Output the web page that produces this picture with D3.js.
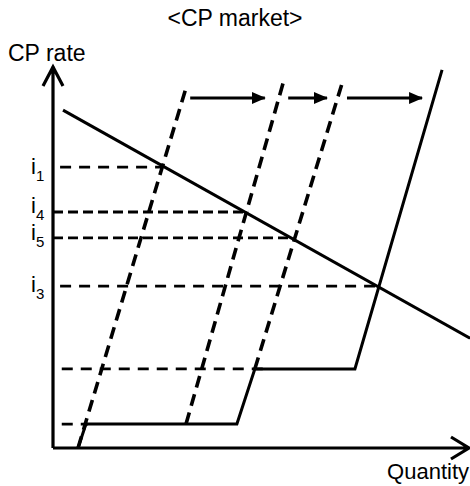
<!DOCTYPE html>
<html>
<head>
<meta charset="utf-8">
<script src="https://cdn.jsdelivr.net/npm/d3@7"></script>
<style>
  html, body { margin: 0; padding: 0; background: #fff; }
  svg { display: block; font-family: "Liberation Sans", Arial, sans-serif; }
</style>
</head>
<body>
<svg id="chart" width="470" height="486"></svg>
<script>
// ---- data (abstract units: quantity 0-100, rate 0-100) ----
const title = "<CP market>";
const yAxisLabel = "CP rate";
const xAxisLabel = "Quantity";

// demand curve (solid, downward sloping)
const demand = [[2.4, 88.9], [100, 28.9]];

// interest-rate levels with labels
const rateNames  = ["1", "4", "5", "3"];
const rateLevels = [73.9, 62.1, 55.3, 42.6];
const rateStart  = [1.7, 0, 0, 1.7];
const rateEnd    = [26.1, 46.8, 57.6, 78.4];
const rateLabelNudge = [7, 1, 2, 6];

// unlabeled lower rate levels (dashed)
const lowLevels = [20.8, 6.3];
const lowStart  = [2.1, 2.1];
const lowEnd    = [50.4, 8.4];

// shifted supply curves (dashed)
const supply1 = [[6.0, 0], [32.1, 95.5]];
const supply2 = [[31.9, 6.3], [55.2, 96.1]];
const supply3 = [[48.4, 20.8], [69.5, 96.6]];
// final supply curve (solid, stepped)
const supplyFinal = [[6.0, 0], [7.9, 6.3], [44.1, 6.3], [48.4, 20.8], [72.4, 20.8], [93.3, 99.5]];

// shift arrows [from, to] at a common rate level
const arrowLevel = 92.1;
const arrows = [[32.9, 50.8], [56.4, 65.7], [70.5, 88.5]];

// ---- drawing ----
const svg = d3.select("#chart");
const x = d3.scaleLinear().domain([0, 100]).range([53, 470]);
const y = d3.scaleLinear().domain([0, 100]).range([448, 68]);
const line = d3.line().x(d => x(d[0])).y(d => y(d[1]));

svg.append("defs").append("marker")
  .attr("id", "ah").attr("viewBox", "0 0 14 12")
  .attr("refX", 13).attr("refY", 6)
  .attr("markerWidth", 14).attr("markerHeight", 12)
  .attr("markerUnits", "userSpaceOnUse")
  .attr("orient", "auto")
  .append("path").attr("d", "M0,0 L14,6 L0,12 Z").attr("fill", "#000");

// title and axis labels
svg.append("text").attr("x", 235).attr("y", 26).attr("text-anchor", "middle")
  .attr("font-size", 23).text(title);
svg.append("text").attr("x", 8).attr("y", 61).attr("font-size", 23).text(yAxisLabel);
svg.append("text").attr("x", 469).attr("y", 479).attr("text-anchor", "end")
  .attr("font-size", 22).text(xAxisLabel);

// horizontal dashed rate lines
const hl = svg.append("g").attr("stroke", "#000").attr("stroke-width", 2.8).attr("fill", "none");
rateLevels.forEach((r, i) => {
  hl.append("line").attr("x1", x(rateStart[i])).attr("x2", x(rateEnd[i]))
    .attr("y1", y(r)).attr("y2", y(r))
    .attr("stroke-dasharray", (i === 1 || i === 2) ? "10,5" : "11,8");
});
lowLevels.forEach((r, i) => {
  hl.append("line").attr("x1", x(lowStart[i])).attr("x2", x(lowEnd[i]))
    .attr("y1", y(r)).attr("y2", y(r))
    .attr("stroke-dasharray", "11,8");
});

// rate labels
rateLevels.forEach((r, i) => {
  const t = svg.append("text").attr("x", 31).attr("y", y(r) + rateLabelNudge[i]).attr("font-size", 22);
  t.append("tspan").text("i");
  t.append("tspan").attr("font-size", 15).attr("dy", 7).text(rateNames[i]);
});

// dashed supply curves
[supply1, supply2, supply3].forEach(s => {
  svg.append("path").attr("d", line(s)).attr("fill", "none")
    .attr("stroke", "#000").attr("stroke-width", 3.6).attr("stroke-dasharray", "12,7");
});

// solid curves
svg.append("path").attr("d", line(demand)).attr("fill", "none")
  .attr("stroke", "#000").attr("stroke-width", 3);
svg.append("path").attr("d", line(supplyFinal)).attr("fill", "none")
  .attr("stroke", "#000").attr("stroke-width", 3).attr("stroke-linejoin", "miter");

// shift arrows
arrows.forEach(a => {
  svg.append("line").attr("x1", x(a[0])).attr("x2", x(a[1]))
    .attr("y1", y(arrowLevel)).attr("y2", y(arrowLevel))
    .attr("stroke", "#000").attr("stroke-width", 3).attr("marker-end", "url(#ah)");
});

// axes with open arrow heads
const ax = svg.append("g").attr("stroke", "#000").attr("stroke-width", 3.2).attr("fill", "none");
ax.append("path").attr("d", `M${x(0)},${y(0)} L${x(0)},${y(100) - 2} M${x(0) - 10},${y(100) + 18} L${x(0)},${y(100) - 1} L${x(0) + 10},${y(100) + 18}`);
ax.append("path").attr("d", `M${x(0)},${y(0)} L${x(100) - 1},${y(0)} M${x(100) - 19},${y(0) - 11} L${x(100) - 1},${y(0)} L${x(100) - 19},${y(0) + 11}`);
</script>
</body>
</html>
